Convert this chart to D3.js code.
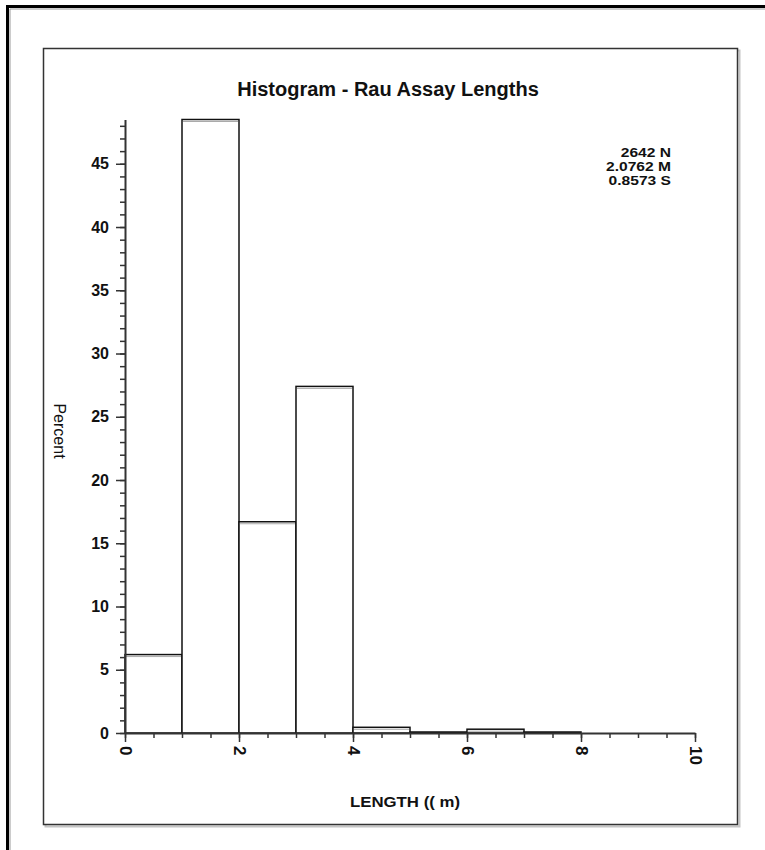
<!DOCTYPE html>
<html>
<head>
<meta charset="utf-8">
<script src="https://cdn.jsdelivr.net/npm/d3@7"></script>
<style>
  body { margin: 0; background: #fff; }
  svg { display: block; font-family: "Liberation Sans", Arial, sans-serif; }
</style>
</head>
<body>
<svg id="chart" width="765" height="850"></svg>
<script>
// histogram bins (length, m) and percent of samples
const binStarts = [0, 1, 2, 3, 4, 5, 6, 7, 8, 9];
const binEnds = [1, 2, 3, 4, 5, 6, 7, 8, 9, 10];
const percents = [6.2, 48.5, 16.7, 27.4, 0.45, 0.08, 0.3, 0.08, 0, 0];

const yMajorTicks = [0, 5, 10, 15, 20, 25, 30, 35, 40, 45];
const xMajorTicks = [0, 2, 4, 6, 8, 10];
const statsLines = ["2642 N", "2.0762 M", "0.8573 S"];

const titleText = "Histogram - Rau Assay Lengths";
const xTitle = "LENGTH (( m)";
const yTitle = "Percent";

const width = 765;
const height = 850;

const svg = d3.select("#chart");

// outer page border
svg.append("path")
    .attr("d", "M7.5,850 V6.5 H765")
    .attr("fill", "none")
    .attr("stroke", "#000")
    .attr("stroke-width", 3);
svg.append("path")
    .attr("d", "M10,850 V9 H765")
    .attr("fill", "none")
    .attr("stroke", "#999")
    .attr("stroke-width", 1);

// inner frame with shadow
svg.append("rect")
    .attr("x", 45.5).attr("y", 50.5)
    .attr("width", 694).attr("height", 776)
    .attr("fill", "none")
    .attr("stroke", "#c4c4c4")
    .attr("stroke-width", 2);
svg.append("rect")
    .attr("x", 43.5).attr("y", 48.5)
    .attr("width", 694).attr("height", 776)
    .attr("fill", "#fff")
    .attr("stroke", "#333")
    .attr("stroke-width", 1.5);

// scales
const x = d3.scaleLinear().domain([0, 10]).range([125, 695]);
const y = d3.scaleLinear().domain([0, d3.max(percents)]).range([733, 119.5]);

// bars
const bars = svg.append("g").selectAll("g")
    .data(percents)
    .enter()
    .append("g");

bars.append("rect")
    .attr("x", (d, i) => x(binStarts[i]))
    .attr("y", d => y(d))
    .attr("width", (d, i) => x(binEnds[i]) - x(binStarts[i]))
    .attr("height", d => y(0) - y(d))
    .attr("fill", "#fff")
    .attr("stroke", "#111")
    .attr("stroke-width", 1.5);

// light shadow line under each bar top
bars.append("line")
    .attr("x1", (d, i) => x(binStarts[i]) + 1)
    .attr("x2", (d, i) => x(binEnds[i]) - 1)
    .attr("y1", d => y(d) + 2)
    .attr("y2", d => y(d) + 2)
    .attr("stroke", "#aaa")
    .attr("stroke-width", 1)
    .style("display", d => d > 0.2 ? null : "none");

// y axis: minor ticks then major ticks with labels
svg.append("g")
    .attr("transform", `translate(${x(0)},0)`)
    .call(d3.axisLeft(y).tickValues(d3.range(0, 49, 1)).tickSize(5).tickSizeOuter(0).tickFormat(""))
    .call(g => g.select(".domain").remove())
    .selectAll("line").attr("stroke", "#333").attr("stroke-width", 1.5);

const yAxis = svg.append("g")
    .attr("transform", `translate(${x(0)},0)`)
    .call(d3.axisLeft(y).tickValues(yMajorTicks).tickSize(9).tickSizeOuter(0).tickPadding(7));
yAxis.select(".domain").attr("stroke", "#333").attr("stroke-width", 2);
yAxis.selectAll("line").attr("stroke", "#333").attr("stroke-width", 1.5);
yAxis.selectAll("text")
    .attr("font-family", "Liberation Sans, Arial, sans-serif")
    .attr("font-size", 16)
    .attr("font-weight", "bold")
    .attr("fill", "#111");

// x axis
svg.append("g")
    .attr("transform", `translate(0,${y(0)})`)
    .call(d3.axisBottom(x).tickValues(d3.range(0, 10.01, 0.5)).tickSize(5).tickSizeOuter(0).tickFormat(""))
    .call(g => g.select(".domain").remove())
    .selectAll("line").attr("stroke", "#333").attr("stroke-width", 1.5);

const xAxis = svg.append("g")
    .attr("transform", `translate(0,${y(0)})`)
    .call(d3.axisBottom(x).tickValues(xMajorTicks).tickSize(9).tickSizeOuter(0));
xAxis.select(".domain").attr("stroke", "#333").attr("stroke-width", 2);
xAxis.selectAll("line").attr("stroke", "#333").attr("stroke-width", 1.5);
xAxis.selectAll("text")
    .attr("transform", "rotate(90)")
    .attr("x", 13)
    .attr("y", 0)
    .attr("dy", "0.35em")
    .attr("text-anchor", "start")
    .attr("font-family", "Liberation Sans, Arial, sans-serif")
    .attr("font-size", 17)
    .attr("font-weight", "bold")
    .attr("fill", "#111");

// title
svg.append("text")
    .attr("x", 388)
    .attr("y", 96)
    .attr("text-anchor", "middle")
    .attr("font-size", 20)
    .attr("fill", "#111")
    .style("font-weight", 600)
    .text(titleText);

// stats box (text in the picture is stretched sideways)
svg.append("g")
    .attr("transform", "translate(671,0) scale(1.3,1)")
    .selectAll("text")
    .data(statsLines)
    .enter()
    .append("text")
    .attr("x", 0)
    .attr("y", (d, i) => 157 + i * 14)
    .attr("text-anchor", "end")
    .attr("font-size", 12)
    .attr("font-weight", "bold")
    .attr("fill", "#111")
    .text(d => d);

// axis titles
svg.append("text")
    .attr("transform", "translate(54,431) rotate(90)")
    .attr("text-anchor", "middle")
    .attr("font-size", 16)
    .attr("fill", "#111")
    .text(yTitle);

svg.append("g")
    .attr("transform", "translate(405,807) scale(1.2,1)")
    .append("text")
    .attr("x", 0)
    .attr("y", 0)
    .attr("text-anchor", "middle")
    .attr("font-size", 14)
    .attr("font-weight", "bold")
    .attr("fill", "#111")
    .text(xTitle);
</script>
</body>
</html>
